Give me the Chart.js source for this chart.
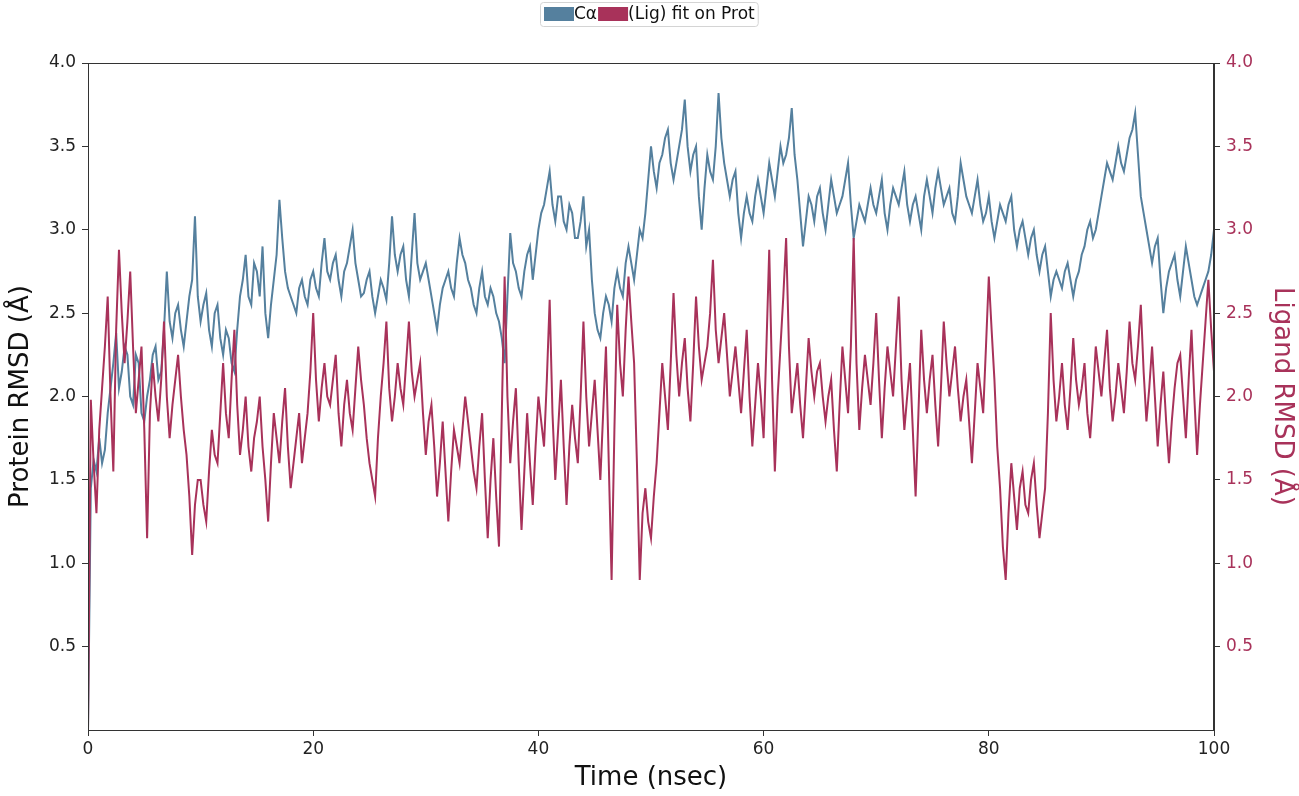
<!DOCTYPE html>
<html>
<head>
<meta charset="utf-8">
<script src="https://cdn.jsdelivr.net/npm/chart.js@4.4.1/dist/chart.umd.min.js"></script>
<style>
  html, body { margin: 0; padding: 0; background: #fff; }
  #chartWrapper { width: 1299px; height: 796px; }
</style>
</head>
<body>
<div id="chartWrapper"><canvas id="rmsdChart"></canvas></div>
<script>
// one sample every 0.25 ns, 0 .. 100 ns (one row = 10 ns)
const proteinRmsd = [
    0.0, 1.45, 1.62, 1.55, 1.75, 1.6, 1.68, 1.9, 2.05, 2.2, 2.38, 2.05, 2.15, 2.3, 2.25, 2.0, 1.95, 2.25, 2.2, 1.9,
    1.85, 2.0, 2.1, 2.25, 2.3, 2.1, 2.15, 2.4, 2.75, 2.45, 2.35, 2.5, 2.55, 2.4, 2.3, 2.45, 2.6, 2.7, 3.08, 2.6,
    2.45, 2.55, 2.62, 2.4, 2.3, 2.5, 2.55, 2.35, 2.25, 2.4, 2.35, 2.2, 2.15, 2.4, 2.6, 2.7, 2.85, 2.6, 2.55, 2.8,
    2.75, 2.6, 2.9, 2.5, 2.35, 2.55, 2.7, 2.85, 3.18, 2.95, 2.75, 2.65, 2.6, 2.55, 2.5, 2.65, 2.7, 2.6, 2.55, 2.7,
    2.75, 2.65, 2.6, 2.8, 2.95, 2.75, 2.7, 2.8, 2.85, 2.7, 2.6, 2.75, 2.8, 2.9, 3.0, 2.8, 2.7, 2.6, 2.62, 2.7,
    2.75, 2.6, 2.5, 2.6, 2.7, 2.65, 2.58, 2.8, 3.08, 2.85, 2.75, 2.85, 2.9, 2.7, 2.6, 2.85, 3.1, 2.8, 2.7, 2.75,
    2.8, 2.7, 2.6, 2.5, 2.4, 2.55, 2.65, 2.7, 2.75, 2.65, 2.6, 2.8, 2.95, 2.85, 2.8, 2.7, 2.65, 2.55, 2.5, 2.65,
    2.75, 2.6, 2.55, 2.65, 2.6, 2.5, 2.45, 2.35, 2.2, 2.6, 2.98, 2.8, 2.75, 2.65, 2.6, 2.75, 2.85, 2.9, 2.7, 2.85,
    3.0, 3.1, 3.15, 3.25, 3.35, 3.15, 3.05, 3.2, 3.2, 3.05, 3.0, 3.15, 3.1, 2.95, 2.95, 3.05, 3.2, 2.9, 3.0, 2.7,
    2.5, 2.4, 2.35, 2.5, 2.6, 2.55, 2.45, 2.65, 2.75, 2.65, 2.6, 2.8, 2.9, 2.8, 2.7, 2.85, 3.0, 2.95, 3.1, 3.3,
    3.5, 3.35, 3.25, 3.4, 3.45, 3.55, 3.6, 3.4, 3.3, 3.4, 3.5, 3.6, 3.78, 3.5, 3.35, 3.45, 3.5, 3.2, 3.0, 3.25,
    3.45, 3.35, 3.3, 3.5, 3.82, 3.55, 3.4, 3.3, 3.2, 3.3, 3.35, 3.1, 2.95, 3.1, 3.2, 3.1, 3.05, 3.2, 3.3, 3.2,
    3.1, 3.25, 3.4, 3.3, 3.2, 3.35, 3.5, 3.4, 3.45, 3.55, 3.73, 3.45, 3.3, 3.1, 2.9, 3.05, 3.2, 3.15, 3.05, 3.2,
    3.25, 3.1, 3.0, 3.15, 3.3, 3.2, 3.1, 3.15, 3.2, 3.3, 3.4, 3.15, 2.95, 3.05, 3.15, 3.1, 3.05, 3.15, 3.25, 3.15,
    3.1, 3.2, 3.3, 3.1, 3.0, 3.15, 3.25, 3.2, 3.15, 3.25, 3.35, 3.15, 3.05, 3.15, 3.2, 3.1, 3.0, 3.2, 3.3, 3.2,
    3.1, 3.25, 3.35, 3.25, 3.15, 3.2, 3.25, 3.1, 3.05, 3.2, 3.4, 3.3, 3.2, 3.15, 3.1, 3.2, 3.3, 3.15, 3.05, 3.1,
    3.2, 3.05, 2.95, 3.05, 3.15, 3.1, 3.05, 3.15, 3.2, 3.0, 2.9, 3.0, 3.05, 2.95, 2.85, 2.95, 3.0, 2.85, 2.75, 2.85,
    2.9, 2.75, 2.6, 2.7, 2.75, 2.7, 2.65, 2.75, 2.8, 2.7, 2.6, 2.7, 2.75, 2.85, 2.9, 3.0, 3.05, 2.95, 3.0, 3.1,
    3.2, 3.3, 3.4, 3.35, 3.3, 3.4, 3.5, 3.4, 3.35, 3.45, 3.55, 3.6, 3.7, 3.45, 3.2, 3.1, 3.0, 2.9, 2.8, 2.9,
    2.95, 2.7, 2.5, 2.65, 2.75, 2.8, 2.85, 2.7, 2.6, 2.75, 2.9, 2.8, 2.7, 2.6, 2.55, 2.6, 2.65, 2.7, 2.75, 2.85,
    3.0
];
const ligandRmsd = [
    0.0, 1.98, 1.6, 1.3, 1.8, 2.05, 2.3, 2.6, 2.0, 1.55, 2.4, 2.88, 2.5, 2.2, 2.45, 2.75, 2.3, 1.9, 2.1, 2.3,
    1.8, 1.15, 1.9, 2.2, 2.0, 1.85, 2.1, 2.45, 2.0, 1.75, 1.95, 2.1, 2.25, 2.0, 1.8, 1.65, 1.4, 1.05, 1.35, 1.5,
    1.5, 1.35, 1.25, 1.55, 1.8, 1.65, 1.6, 1.9, 2.2, 1.9, 1.75, 2.1, 2.4, 1.95, 1.65, 1.8, 2.0, 1.7, 1.55, 1.75,
    1.85, 2.0, 1.7, 1.5, 1.25, 1.6, 1.9, 1.75, 1.6, 1.85, 2.05, 1.7, 1.45, 1.6, 1.75, 1.9, 1.6, 1.75, 1.9, 2.15,
    2.5, 2.1, 1.85, 2.05, 2.2, 2.0, 1.95, 2.1, 2.25, 1.9, 1.7, 1.95, 2.1, 1.9, 1.8, 2.05, 2.3, 2.1, 1.95, 1.75,
    1.6, 1.5, 1.4, 1.75, 2.0, 2.2, 2.45, 2.05, 1.85, 2.0, 2.2, 2.05, 1.95, 2.2, 2.45, 2.15, 2.0, 2.1, 2.2, 1.9,
    1.65, 1.85, 1.95, 1.7, 1.4, 1.6, 1.85, 1.55, 1.25, 1.55, 1.8, 1.7, 1.6, 1.8, 2.0, 1.85, 1.7, 1.55, 1.45, 1.7,
    1.9, 1.5, 1.15, 1.5, 1.75, 1.4, 1.1, 1.9, 2.72, 2.0, 1.6, 1.85, 2.05, 1.6, 1.2, 1.55, 1.9, 1.6, 1.35, 1.7,
    2.0, 1.85, 1.7, 2.1, 2.58, 1.9, 1.5, 1.8, 2.1, 1.7, 1.35, 1.7, 1.95, 1.75, 1.6, 2.0, 2.45, 2.0, 1.7, 1.9,
    2.1, 1.8, 1.5, 1.9, 2.3, 1.6, 0.9, 1.8, 2.55, 2.2, 2.0, 2.4, 2.72, 2.45, 2.2, 1.6, 0.9, 1.3, 1.45, 1.25,
    1.15, 1.4, 1.6, 1.9, 2.2, 2.0, 1.8, 2.2, 2.62, 2.25, 2.0, 2.2, 2.35, 2.05, 1.85, 2.2, 2.6, 2.3, 2.1, 2.2,
    2.3, 2.5, 2.82, 2.4, 2.2, 2.35, 2.5, 2.25, 2.0, 2.15, 2.3, 2.1, 1.9, 2.15, 2.4, 2.0, 1.7, 1.95, 2.2, 2.0,
    1.75, 2.3, 2.88, 2.1, 1.55, 2.0, 2.3, 2.6, 2.95, 2.3, 1.9, 2.05, 2.2, 1.95, 1.75, 2.05, 2.35, 2.15, 2.0, 2.15,
    2.2, 2.0, 1.85, 2.0, 2.1, 1.8, 1.55, 1.95, 2.3, 2.1, 1.9, 2.3, 2.95, 2.2, 1.8, 2.05, 2.25, 2.1, 1.95, 2.2,
    2.5, 2.1, 1.75, 2.05, 2.3, 2.15, 2.0, 2.3, 2.6, 2.1, 1.8, 2.0, 2.2, 1.8, 1.4, 1.9, 2.4, 2.1, 1.9, 2.1,
    2.25, 1.95, 1.7, 2.05, 2.45, 2.2, 2.0, 2.15, 2.3, 2.05, 1.85, 2.0, 2.1, 1.85, 1.6, 1.9, 2.2, 2.05, 1.9, 2.3,
    2.72, 2.4, 2.1, 1.7, 1.45, 1.1, 0.9, 1.3, 1.6, 1.4, 1.2, 1.45, 1.55, 1.35, 1.3, 1.5, 1.6, 1.35, 1.15, 1.3,
    1.45, 1.9, 2.5, 2.1, 1.85, 2.0, 2.2, 1.95, 1.8, 2.05, 2.35, 2.1, 1.95, 2.05, 2.2, 1.9, 1.75, 2.0, 2.3, 2.15,
    2.0, 2.2, 2.4, 2.05, 1.85, 2.0, 2.2, 2.05, 1.9, 2.15, 2.45, 2.2, 2.1, 2.3, 2.55, 2.15, 1.85, 2.05, 2.3, 2.0,
    1.7, 1.95, 2.15, 1.85, 1.6, 1.85, 2.05, 2.2, 2.25, 2.0, 1.75, 2.1, 2.4, 2.0, 1.65, 1.95, 2.2, 2.45, 2.7, 2.4,
    2.15
];
const timeNs = proteinRmsd.map((_, i) => i * 0.25);
const xTickValues = [0, 20, 40, 60, 80, 100];
const yTickValues = [0.5, 1.0, 1.5, 2.0, 2.5, 3.0, 3.5, 4.0];

const BLUE = '#55809e';
const RED = '#a8325a';
const FONT = 'DejaVu Sans';

// matplotlib style legend box at the top, and a full frame round the plot
const framePlugin = {
    id: 'frame',
    afterDraw(chart) {
        const { ctx, chartArea } = chart;
        ctx.save();
        ctx.strokeStyle = '#333';
        ctx.lineWidth = 1;
        ctx.strokeRect(chartArea.left + 0.5, chartArea.top + 0.5,
            chartArea.right - chartArea.left - 1, chartArea.bottom - chartArea.top);

        ctx.font = '17px "' + FONT + '"';
        ctx.textBaseline = 'middle';
        const patchW = 30, patchH = 14;
        const items = chart.data.datasets.map(ds => ({
            label: ds.label, color: ds.borderColor, w: ctx.measureText(ds.label).width
        }));
        const total = items.reduce((s, it) => s + patchW + it.w + 1, 0);
        let x = Math.round(chart.width / 2 - total / 2);
        const cy = 14;
        ctx.strokeStyle = '#d4d4d4';
        ctx.beginPath();
        ctx.roundRect(x - 3.5, 2.5, total + 6, 24, 3);
        ctx.stroke();
        items.forEach(it => {
            ctx.fillStyle = it.color;
            ctx.fillRect(x, cy - patchH / 2, patchW, patchH);
            x += patchW;
            ctx.fillStyle = '#111';
            ctx.fillText(it.label, x, cy + 1);
            x += it.w + 1;
        });
        ctx.restore();
    }
};

function renderChart() {
    const ctx = document.getElementById('rmsdChart').getContext('2d');
    new Chart(ctx, {
        type: 'line',
        data: {
            datasets: [{
                label: 'C\u03B1',
                data: timeNs.map((t, i) => ({ x: t, y: proteinRmsd[i] })),
                borderColor: BLUE,
                borderWidth: 2,
                pointRadius: 0,
                tension: 0,
                yAxisID: 'y',
                order: 1
            }, {
                label: '(Lig) fit on Prot',
                data: timeNs.map((t, i) => ({ x: t, y: ligandRmsd[i] })),
                borderColor: RED,
                borderWidth: 2,
                pointRadius: 0,
                tension: 0,
                yAxisID: 'y1',
                order: 0
            }]
        },
        options: {
            responsive: true,
            maintainAspectRatio: false,
            animation: false,
            layout: { padding: { top: 63, left: 0, right: 0, bottom: 0 } },
            plugins: {
                legend: { display: false },
                tooltip: { enabled: false }
            },
            scales: {
                x: {
                    type: 'linear',
                    min: 0,
                    max: 100,
                    afterBuildTicks: s => { s.ticks = xTickValues.map(v => ({ value: v })); },
                    afterFit: s => { s.height = 66; },
                    ticks: { color: '#222', font: { family: FONT, size: 17 }, padding: 3, maxRotation: 0 },
                    grid: { drawOnChartArea: false, drawTicks: true, tickLength: 6, color: '#333' },
                    border: { color: '#333' },
                    title: {
                        display: true, text: 'Time (nsec)', color: '#111',
                        font: { family: FONT, size: 26 }, padding: { top: 0, bottom: 2 }
                    }
                },
                y: {
                    position: 'left',
                    min: 0,
                    max: 4,
                    afterBuildTicks: s => { s.ticks = yTickValues.map(v => ({ value: v })); },
                    afterFit: s => { s.width = 88; },
                    ticks: { color: '#222', font: { family: FONT, size: 17 }, padding: 6, callback: v => v.toFixed(1) },
                    grid: { drawOnChartArea: false, drawTicks: true, tickLength: 6, color: '#333' },
                    border: { color: '#333' },
                    title: {
                        display: true, text: 'Protein RMSD (\u00C5)', color: '#111',
                        font: { family: FONT, size: 26 }, padding: { top: 6, bottom: 0 }
                    }
                },
                y1: {
                    position: 'right',
                    min: 0,
                    max: 4,
                    afterBuildTicks: s => { s.ticks = yTickValues.map(v => ({ value: v })); },
                    afterFit: s => { s.width = 85; },
                    ticks: { color: RED, font: { family: FONT, size: 17 }, padding: 6, callback: v => v.toFixed(1) },
                    grid: { drawOnChartArea: false, drawTicks: true, tickLength: 6, color: '#333' },
                    border: { color: '#333' },
                    title: {
                        display: true, text: 'Ligand RMSD (\u00C5)', color: RED,
                        font: { family: FONT, size: 26 }, padding: { top: 2, bottom: 0 }
                    }
                }
            }
        },
        plugins: [framePlugin]
    });
}

document.addEventListener('DOMContentLoaded', renderChart);
</script>
</body>
</html>
